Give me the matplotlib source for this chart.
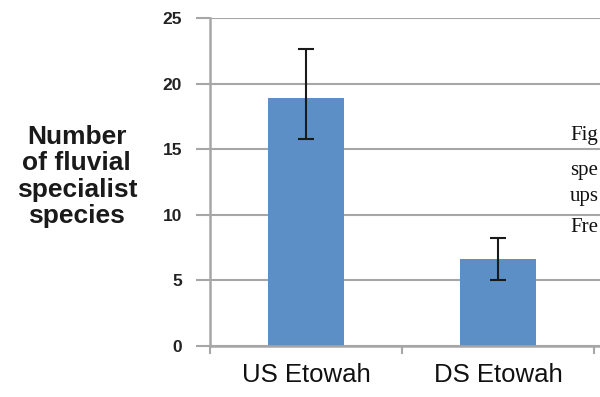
import matplotlib.pyplot as plt
import numpy as np

sites = ["US Etowah", "DS Etowah"]
species = [18.9, 6.6]
err_low = [3.15, 1.55]
err_high = [3.75, 1.65]
yticks = [0, 5, 10, 15, 20, 25]
caption = ["Fig", "spe", "ups", "Fre"]

plt.rcParams['font.family'] = ['Liberation Sans', 'DejaVu Sans']

fig = plt.figure(figsize=(6.0, 3.97), dpi=100)
ax = fig.add_axes([0.35, 0.1285, 0.656, 0.826])

x = np.arange(len(sites))
ax.bar(x, species, width=0.4, color="#5b8fc6", zorder=2)
ax.errorbar(x, species, yerr=[err_low, err_high], fmt="none", ecolor="#1a1a1a",
            elinewidth=1.5, capsize=5.5, capthick=1.5, zorder=3)

ax.set_xlim(-0.5, 1.55)
ax.set_ylim(0, 25)
ax.set_yticks(yticks)
ax.set_yticklabels([str(t) for t in yticks], fontsize=12.5, fontweight="bold", color="#222222")
ax.yaxis.grid(True, color="#a6a6a6", linewidth=1.5, zorder=0)
ax.set_axisbelow(True)

# category labels centred on bars, tick marks on category boundaries
ax.set_xticks(x)
ax.set_xticklabels(sites, fontsize=18.5, color="#111111")
ax.tick_params(axis="x", which="major", length=0, pad=12)
ax.set_xticks([-0.5, 0.5, 1.5], minor=True)
ax.tick_params(axis="x", which="minor", length=6, width=1.5, color="#a6a6a6", direction="out")
ax.tick_params(axis="y", length=10, width=1.5, color="#a6a6a6", pad=10)

for s in ["top", "right"]:
    ax.spines[s].set_visible(False)
for s in ["left", "bottom"]:
    ax.spines[s].set_color("#a6a6a6")
    ax.spines[s].set_linewidth(1.8)

fig.text(0.128, 0.556, "Number\nof fluvial\nspecialist\nspecies", ha="center", va="center",
         fontsize=19, fontweight="bold", color="#1a1a1a", linespacing=1.13)

# caption text running off the right edge
for txt, yb in zip(caption, [140, 175, 201, 232]):
    fig.text(570 / 600, 1 - yb / 397, txt, ha="left", va="baseline",
             fontsize=15, family="Liberation Serif", color="#111111")

fig.savefig("out.png", dpi=100)
